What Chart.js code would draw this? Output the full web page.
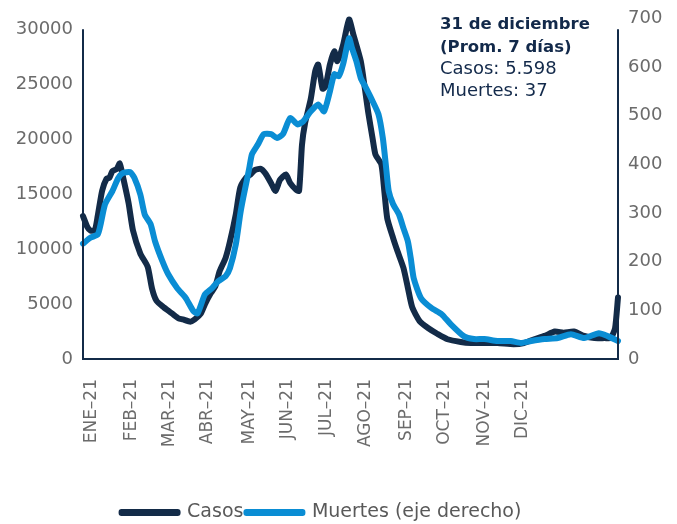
<!DOCTYPE html>
<html>
<head>
<meta charset="utf-8">
<script src="https://cdn.jsdelivr.net/npm/chart.js@4/dist/chart.umd.min.js"></script>
<style>
  body { margin: 0; background: #fff; }
  #wrap { position: relative; width: 677px; height: 524px; }
  canvas { display: block; }
  #nota {
    position: absolute; left: 440px; top: 12px;
    font-family: "DejaVu Sans", sans-serif; font-size: 18px; line-height: 21.7px;
    color: #12294a;
  }
  #nota b { font-size: 16.5px; }
</style>
</head>
<body>
<div id="wrap">
  <canvas id="grafico" width="677" height="524"></canvas>
  <div id="nota"><b>31 de diciembre</b><br><b>(Prom. 7 días)</b><br>Casos: 5.598<br>Muertes: 37</div>
</div>
<script>
// días desde el 1 de enero de 2021 y promedio de 7 días
const casosDias = [0, 3, 5, 8, 10, 13, 16, 18, 20, 23, 25, 27, 31, 34, 39, 44, 47, 50, 55, 58,
  61, 65, 68, 73, 76, 80, 83, 87, 90, 93, 97, 100, 104, 107, 111, 114, 117, 121, 124, 128,
  131, 134, 138, 141, 145, 147, 149, 151, 155, 158, 160, 163, 165, 168, 171, 173, 177, 181, 184, 189,
  192, 194, 197, 199, 203, 205, 207, 211, 214, 218, 221, 224, 229, 235, 241, 248, 257, 264, 271, 282,
  293, 300, 307, 314, 321, 327, 334, 341, 348, 355, 359, 362, 364];
const casosValores = [13000, 12000, 11700, 11700, 13000, 15300, 16400, 16500, 17100, 17300, 17800, 16700, 14200, 11700, 9600, 8400, 6400, 5300, 4700, 4400,
  4100, 3700, 3600, 3400, 3600, 4100, 5000, 6000, 6600, 8000, 9200, 10700, 13200, 15600, 16500, 16800, 17200, 17300, 16900, 16000,
  15300, 16300, 16800, 16000, 15400, 15300, 19500, 21400, 23700, 26200, 26800, 24600, 24800, 26800, 28000, 27100, 28600, 30900, 29500, 27100,
  24400, 22500, 20100, 18600, 17700, 15300, 12800, 11000, 9800, 8300, 6500, 4700, 3450, 2800, 2300, 1800, 1550, 1450, 1450, 1450,
  1350, 1450, 1800, 2100, 2500, 2400, 2500, 2100, 1900, 1900, 1900, 2800, 5598];

const muertesDias = [0, 5, 10, 12, 15, 20, 24, 27, 32, 35, 39, 42, 46, 49, 54, 58, 64, 70, 75, 78,
  83, 88, 92, 97, 100, 104, 107, 109, 113, 115, 119, 123, 128, 132, 136, 141, 146, 150, 155, 160,
  164, 168, 171, 174, 177, 181, 183, 186, 189, 192, 196, 201, 204, 206, 208, 211, 215, 218, 221, 223,
  225, 230, 237, 244, 250, 259, 266, 273, 282, 291, 298, 305, 314, 323, 332, 341, 351, 357, 364];
const muertesValores = [237, 249, 256, 277, 318, 345, 372, 382, 384, 372, 338, 297, 277, 242, 201, 174, 146, 125, 99, 94,
  133, 146, 160, 170, 187, 236, 298, 331, 390, 421, 441, 462, 462, 454, 462, 495, 482, 489, 509, 523,
  509, 550, 585, 581, 606, 659, 639, 612, 577, 560, 536, 503, 454, 400, 345, 318, 297, 269, 242, 207,
  166, 125, 105, 92, 72, 47, 41, 41, 37, 37, 33, 37, 41, 43, 51, 43, 53, 47, 37];

const mesesEtiquetas = ['ENE–21', 'FEB–21', 'MAR–21', 'ABR–21', 'MAY–21', 'JUN–21',
  'JUL–21', 'AGO–21', 'SEP–21', 'OCT–21', 'NOV–21', 'DIC–21'];
const mesesDias = [6, 33, 59, 85, 113, 139, 166, 192, 220, 246, 273, 299];
const ticksCasos = [0, 5000, 10000, 15000, 20000, 25000, 30000];
const ticksMuertes = [0, 100, 200, 300, 400, 500, 600, 700];

const navy = '#132b48';
const azul = '#0a8dd4';
const gris = '#6b6b6b';
const fuente = 'DejaVu Sans';

// la leyenda del original queda algo corrida a la izquierda
const moverLeyenda = {
  id: 'moverLeyenda',
  afterLayout(chart) {
    chart.legend.left -= 17;
    chart.legend.right -= 17;
  }
};

// ejes verticales: solo hasta la marca de 30000, como en el original
const ejesVerticales = {
  id: 'ejesVerticales',
  afterDatasetsDraw(chart) {
    const { ctx, chartArea, scales } = chart;
    const arriba = scales.y.getPixelForValue(30000);
    ctx.save();
    ctx.strokeStyle = navy;
    ctx.lineWidth = 2;
    ctx.beginPath();
    ctx.moveTo(chartArea.left, arriba);
    ctx.lineTo(chartArea.left, chartArea.bottom);
    ctx.moveTo(chartArea.right, arriba);
    ctx.lineTo(chartArea.right, chartArea.bottom);
    ctx.stroke();
    ctx.restore();
  }
};

const ctx = document.getElementById('grafico').getContext('2d');
new Chart(ctx, {
  type: 'line',
  data: {
    datasets: [{
      label: 'Casos',
      data: casosDias.map((d, i) => ({ x: d, y: casosValores[i] })),
      borderColor: navy,
      backgroundColor: navy,
      borderWidth: 6,
      pointRadius: 0,
      tension: 0.2,
      borderCapStyle: 'round',
      borderJoinStyle: 'round',
      clip: false,
      yAxisID: 'y',
      order: 1
    }, {
      label: 'Muertes (eje derecho)',
      data: muertesDias.map((d, i) => ({ x: d, y: muertesValores[i] })),
      borderColor: azul,
      backgroundColor: azul,
      borderWidth: 6,
      pointRadius: 0,
      tension: 0.2,
      borderCapStyle: 'round',
      borderJoinStyle: 'round',
      clip: false,
      yAxisID: 'y1',
      order: 0
    }]
  },
  options: {
    responsive: false,
    animation: false,
    layout: { padding: { top: 10, right: 0, left: 0, bottom: -8 } },
    plugins: {
      tooltip: { enabled: false },
      legend: {
        position: 'bottom',
        labels: {
          boxWidth: 56,
          boxHeight: 1,
          padding: 3,
          color: '#595959',
          font: { family: fuente, size: 19 },
          sort: (a, b) => a.datasetIndex - b.datasetIndex
        }
      }
    },
    scales: {
      x: {
        type: 'linear',
        min: 0,
        max: 364,
        grid: { display: false, drawTicks: false },
        border: { display: true, color: navy, width: 2 },
        afterBuildTicks: (s) => { s.ticks = mesesDias.map(v => ({ value: v })); },
        afterFit: (s) => { s.height = 141; },
        ticks: {
          autoSkip: false,
          minRotation: 90,
          maxRotation: 90,
          padding: 20,
          color: gris,
          font: { family: fuente, size: 17 },
          callback: (v, i) => mesesEtiquetas[i]
        }
      },
      y: {
        position: 'left',
        min: 0,
        max: 31270,
        grid: { display: false, drawTicks: false },
        border: { display: false },
        afterBuildTicks: (s) => { s.ticks = ticksCasos.map(v => ({ value: v })); },
        afterFit: (s) => { s.width = 83; },
        ticks: {
          autoSkip: false,
          padding: 10,
          color: gris,
          font: { family: fuente, size: 18, lineHeight: 0.6 },
          callback: (v) => String(v)
        }
      },
      y1: {
        position: 'right',
        min: 0,
        max: 706,
        grid: { display: false, drawTicks: false },
        border: { display: false },
        afterBuildTicks: (s) => { s.ticks = ticksMuertes.map(v => ({ value: v })); },
        afterFit: (s) => { s.width = 59; },
        ticks: {
          autoSkip: false,
          padding: 10,
          color: gris,
          font: { family: fuente, size: 18, lineHeight: 0.6 },
          callback: (v) => String(v)
        }
      }
    }
  },
  plugins: [moverLeyenda, ejesVerticales]
});
</script>
</body>
</html>
